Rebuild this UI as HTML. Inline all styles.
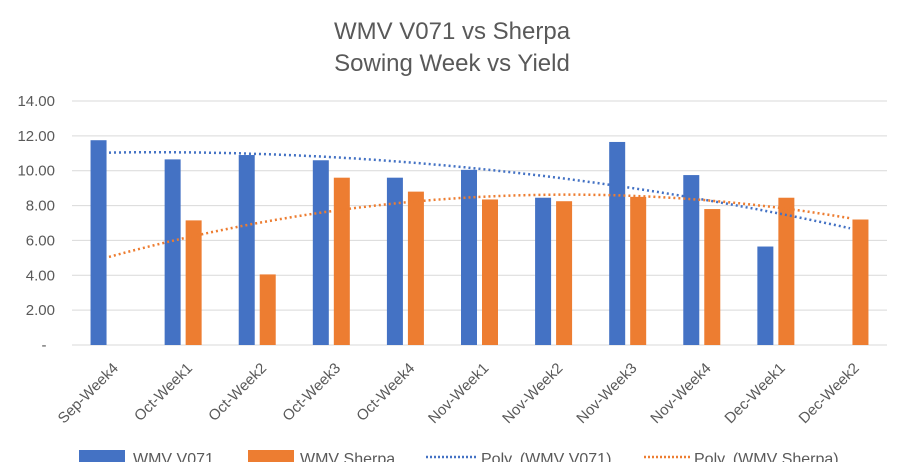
<!DOCTYPE html>
<html><head><meta charset="utf-8"><style>
body{margin:0;background:#fff;}
svg{display:block;font-family:"Liberation Sans",Arial,sans-serif;}
</style></head><body>
<svg id="chart" width="904" height="462">
<text x="452" y="39" text-anchor="middle" font-size="24" fill="#595959">WMV V071 vs Sherpa</text>
<text x="452" y="71" text-anchor="middle" font-size="24" fill="#595959">Sowing Week vs Yield</text>
<g id="grid"></g><g id="bars"></g><g id="trends"></g><g id="labels"></g>
<g>
<rect x="79" y="450" width="46" height="14" fill="#4472C4"/>
<text x="133" y="464" font-size="16" fill="#595959">WMV V071</text>
<rect x="248" y="450" width="46" height="14" fill="#ED7D31"/>
<text x="300" y="464" font-size="16" fill="#595959">WMV Sherpa</text>
<line x1="426" y1="457" x2="478" y2="457" stroke="#4472C4" stroke-width="2.5" stroke-dasharray="2 2"/>
<text x="481" y="464" font-size="16" fill="#595959">Poly. (WMV V071)</text>
<line x1="644" y1="457" x2="691" y2="457" stroke="#ED7D31" stroke-width="2.5" stroke-dasharray="2 2"/>
<text x="694" y="464" font-size="16" fill="#595959">Poly. (WMV Sherpa)</text>
</g>
</svg>
<script>
const categories=["Sep-Week4","Oct-Week1","Oct-Week2","Oct-Week3","Oct-Week4","Nov-Week1","Nov-Week2","Nov-Week3","Nov-Week4","Dec-Week1","Dec-Week2"];
const v071=[11.75,10.65,10.9,10.6,9.6,10.05,8.45,11.65,9.75,5.65,null];
const sherpa=[null,7.15,4.05,9.6,8.8,8.35,8.25,8.5,7.8,8.45,7.2];
const yTicks=[0,2,4,6,8,10,12,14];
const yTickLabels=["-","2.00","4.00","6.00","8.00","10.00","12.00","14.00"];
const NS="http://www.w3.org/2000/svg";
const L=72,R=887,T=101,B=345,yMax=14;
const band=(R-L)/categories.length;
const X=i=>L+band*(i+0.5);
const Y=v=>B-(v/yMax)*(B-T);
function mk(tag,attrs,parent){const e=document.createElementNS(NS,tag);for(const k in attrs)e.setAttribute(k,attrs[k]);document.getElementById(parent).appendChild(e);return e;}
yTicks.forEach((t,i)=>{
 const g=mk('line',{x1:L,x2:R,y1:Y(t),y2:Y(t),stroke:'#D9D9D9','stroke-width':1},'grid');
 
 
 const tx=mk('text',{x:i===0?44:55,y:Y(t)+5,'text-anchor':i===0?'middle':'end','font-size':15,fill:'#595959'},'grid');
 tx.textContent=yTickLabels[i];
 
 
});
const bw=16,gap=5;
categories.forEach((c,i)=>{
 if(v071[i]!=null){const r=mk('rect',{x:X(i)-gap/2-bw,y:Y(v071[i]),width:bw,height:B-Y(v071[i]),fill:'#4472C4'},'bars');
  
  }
 if(sherpa[i]!=null){const r=mk('rect',{x:X(i)+gap/2,y:Y(sherpa[i]),width:bw,height:B-Y(sherpa[i]),fill:'#ED7D31'},'bars');
  
  }
 const tx=mk('text',{x:0,y:0,'text-anchor':'end','font-size':15,fill:'#595959',transform:`translate(${X(i)+10},${B+24}) rotate(-45)`},'labels');
 tx.textContent=c;
 
 
});
function quadFit(arr){
 const p=[];arr.forEach((v,i)=>{if(v!=null)p.push([i+1,v]);});
 let S=[0,0,0,0,0],Ty=[0,0,0];
 p.forEach(([x,y])=>{for(let k=0;k<5;k++)S[k]+=x**k;for(let k=0;k<3;k++)Ty[k]+=y*x**k;});
 const M=[[S[0],S[1],S[2],Ty[0]],[S[1],S[2],S[3],Ty[1]],[S[2],S[3],S[4],Ty[2]]];
 for(let i=0;i<3;i++){for(let j=i+1;j<3;j++){const f=M[j][i]/M[i][i];for(let k=i;k<4;k++)M[j][k]-=f*M[i][k];}}
 const c=[0,0,0];for(let i=2;i>=0;i--){let s=M[i][3];for(let k=i+1;k<3;k++)s-=M[i][k]*c[k];c[i]=s/M[i][i];}
 return x=>c[0]+c[1]*x+c[2]*x*x;
}
[[v071,'#4472C4','trend-v071'],[sherpa,'#ED7D31','trend-sherpa']].forEach(([arr,col,name])=>{
 const f=quadFit(arr);let d='';
 for(let t=0;t<=100;t++){const i=t/10;d+=(t?'L':'M')+X(i).toFixed(1)+','+Y(f(i+1)).toFixed(1);}
 const pth=mk('path',{d:d,fill:'none',stroke:col,'stroke-width':2.5,'stroke-dasharray':'2 3'},'trends');
 
 
});
</script>
</body></html>
